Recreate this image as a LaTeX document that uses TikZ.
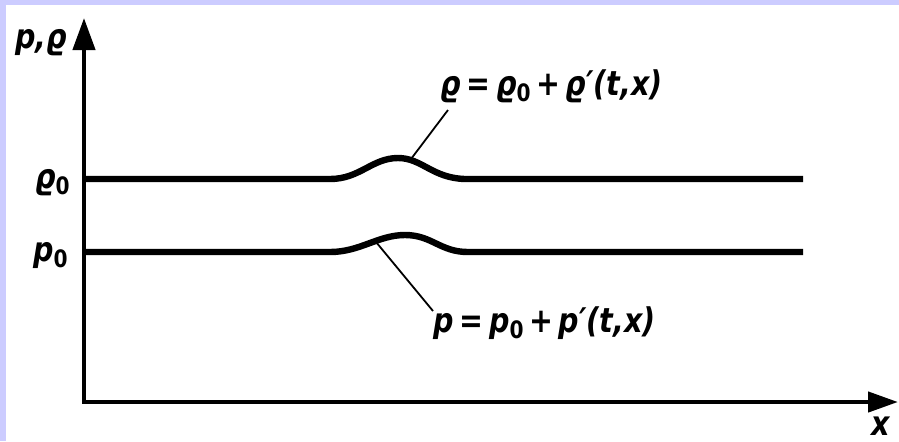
\documentclass[tikz,border=0pt]{standalone}
\usepackage{fontspec}
\newfontfamily\lblfont{DejaVu Sans}[FakeStretch=0.84]
\usetikzlibrary{arrows.meta}
\definecolor{lav}{HTML}{CCCCFF}
\newcommand\zsub{\raisebox{-0.35ex}{\upshape\bfseries\fontsize{12}{13}\selectfont 0}}
\begin{document}
\begin{tikzpicture}[x=0.5pt,y=-0.5pt,
  lbl/.style={font=\lblfont\bfseries\itshape\fontsize{17}{20}\selectfont, inner sep=0pt},
  axis/.style={line width=2.2pt, line join=miter},
  curve/.style={line width=3.2pt},
  leader/.style={line width=0.9pt}]
\fill[white] (0,0) rectangle (899,441);
\fill[lav] (0,0) rectangle (899,5);
\fill[lav] (0,0) rectangle (6,441);
\useasboundingbox (0,0) rectangle (899,441);
% axes
\coordinate (ytip) at (84,18);
\coordinate (O) at (84,402);
\coordinate (xtip) at (898,402);
\draw[axis,{Triangle[length=16pt,width=11pt]}-{Triangle[length=15pt,width=10pt]}] (ytip) -- (O) -- (xtip);
% curves
\draw[curve] (84,179) -- (330,179) .. controls (360,179) and (372,158) .. (398,158)
  .. controls (422,158) and (432,178) .. (465,179) -- (803,179);
\draw[curve] (84,252) -- (330,252) .. controls (360,252) and (378,235) .. (405,235)
  .. controls (432,235) and (440,252) .. (468,252) -- (803,252);
% labels
\node[lbl, anchor=base west] (yl) at (15,48) {p,ϱ};
\node[lbl, anchor=base east] (r0) at (70,188) {ϱ\zsub};
\node[lbl, anchor=base east] (p0) at (68,261) {p\zsub};
\node[lbl, anchor=base] (xl) at (881,435) {x};
\node[lbl, anchor=base west] (rl) at (440,95) {ϱ\,=\,ϱ\zsub\,+\,ϱ′(t,x)};
\node[lbl, anchor=base west] (pl) at (433,332) {p\,=\,p\zsub\,+\,p′(t,x)};
% leaders
\coordinate (rj) at (411,159);
\coordinate (rtail) at (448,110);
\coordinate (pj) at (376,242);
\coordinate (ptail) at (433,311);
\draw[leader] (rj) -- (rtail);
\draw[leader] (pj) -- (ptail);
\end{tikzpicture}
\end{document}
